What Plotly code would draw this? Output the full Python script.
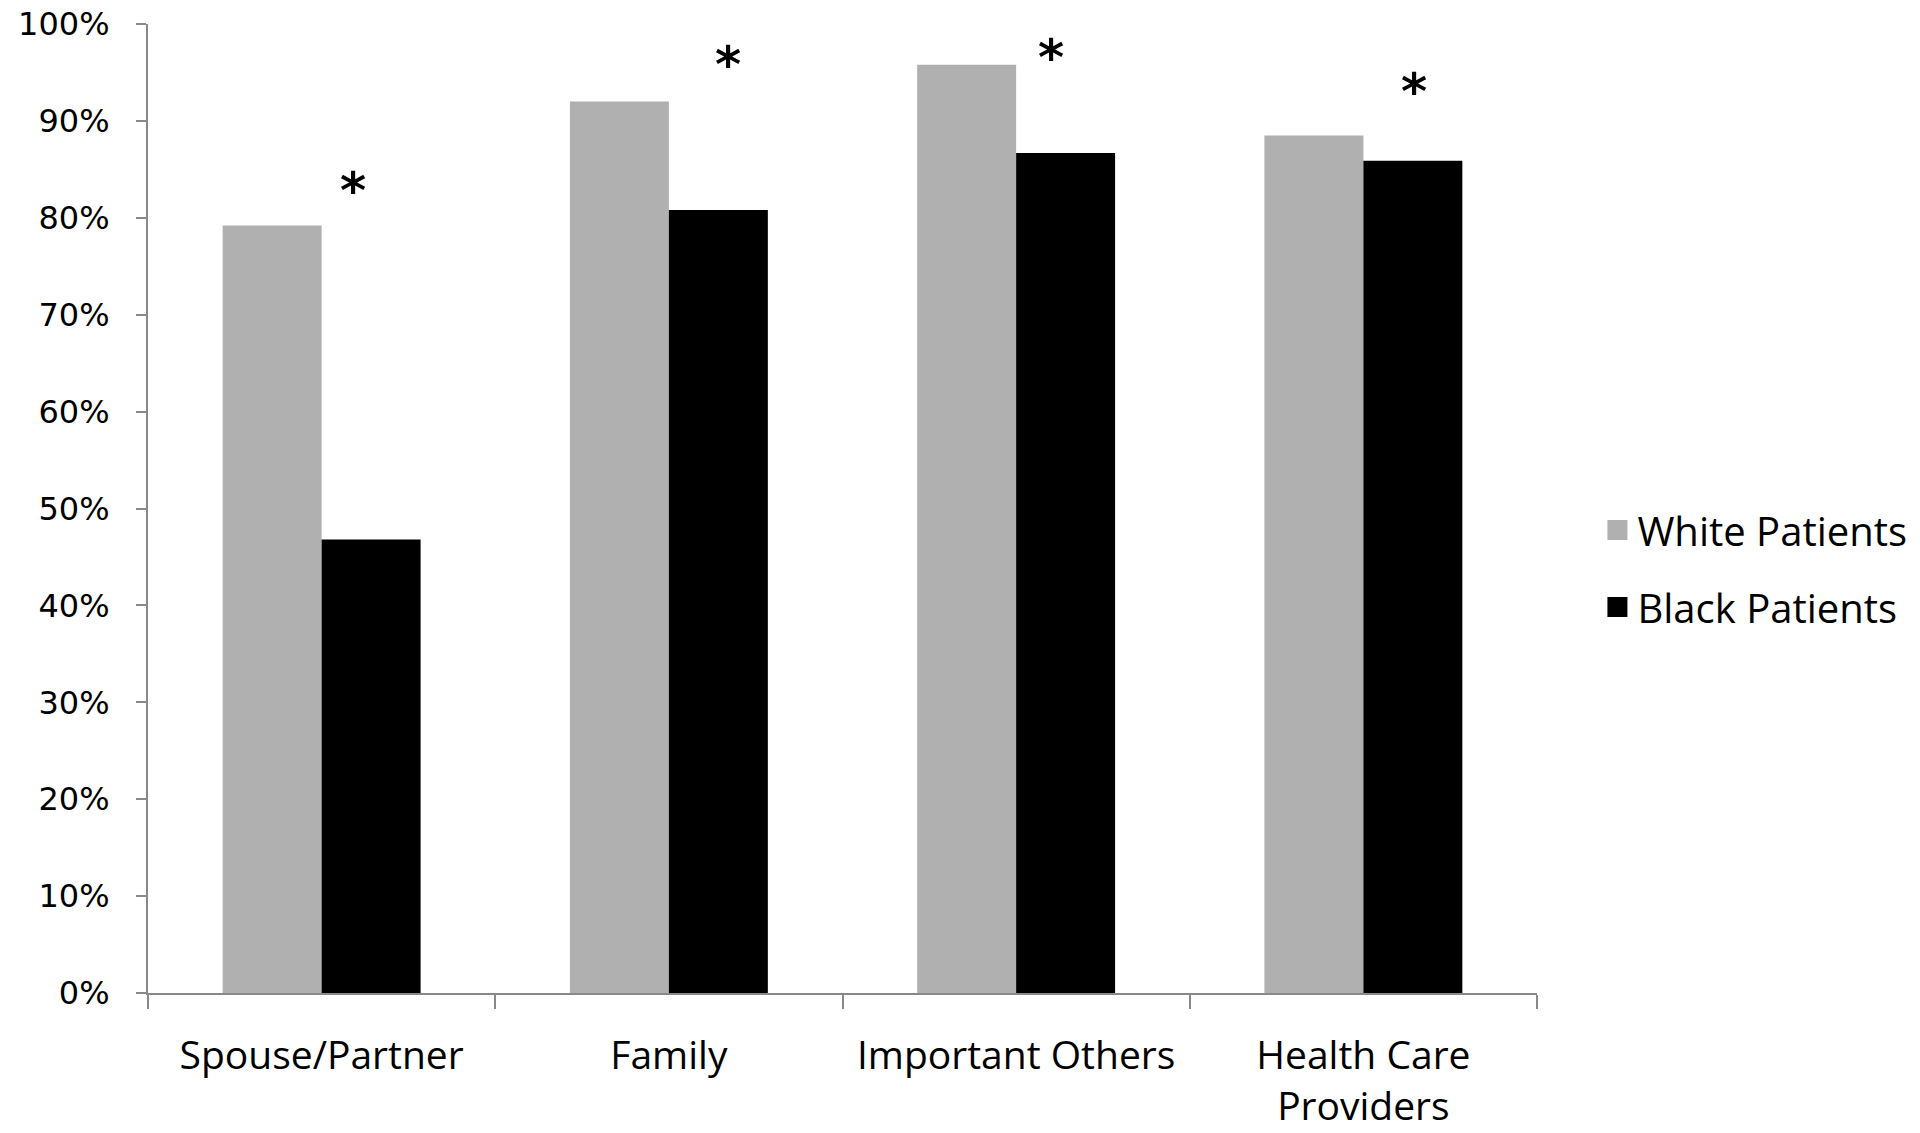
import plotly.graph_objects as go

categories = ["Spouse/Partner", "Family", "Important Others", "Health Care<br>Providers"]
white_patients = [79.2, 92.0, 95.8, 88.5]
black_patients = [46.8, 80.8, 86.7, 85.9]
significant = [True, True, True, True]
y_ticks = [0, 10, 20, 30, 40, 50, 60, 70, 80, 90, 100]
y_tick_labels = [f"{v}%" for v in y_ticks]

# annotation placement (layout, not data)
star_dx = [0.09, 0.17, 0.10, 0.146]
star_y = [83.5, 96.5, 97.2, 93.7]

GRAY = "#B0B0B0"
AXIS = "#898989"
series = [("White Patients", white_patients, GRAY), ("Black Patients", black_patients, "#000000")]

fig = go.Figure()
for name, vals, col in series:
    fig.add_trace(go.Bar(x=categories, y=vals, name=name, showlegend=False,
                         marker=dict(color=col, line=dict(width=0))))
for name, vals, col in series:
    fig.add_trace(go.Scatter(x=[None], y=[None], name=name, mode="markers",
                             legendgroup=name,
                             marker=dict(symbol="square", size=16, color=col,
                                         line=dict(color=col, width=4))))

annotations = []
for i, sig in enumerate(significant):
    if sig:
        annotations.append(dict(x=i + star_dx[i], y=star_y[i], xref="x", yref="y",
                                text="<b>*</b>", showarrow=False, yanchor="middle",
                                yshift=-7,
                                font=dict(family="DejaVu Sans", size=50, color="#000")))

fig.update_layout(
    width=1920, height=1133,
    paper_bgcolor="white", plot_bgcolor="white",
    margin=dict(l=148, r=383, t=24, b=140, autoexpand=False),
    barmode="group", bargap=0.43, bargroupgap=0,
    showlegend=True,
    legend=dict(x=1.0435, y=0.438, xanchor="left", yanchor="middle",
                font=dict(family="Open Sans", size=40, color="#000"),
                tracegroupgap=22, itemwidth=30, bgcolor="rgba(0,0,0,0)"),
    annotations=annotations,
)
fig.update_xaxes(
    type="category", showline=True, linecolor=AXIS, linewidth=2,
    ticks="outside", tickson="boundaries", ticklen=14, tickcolor=AXIS, tickwidth=1.5,
    tickfont=dict(family="Open Sans", size=39, color="#000"),
    ticklabelstandoff=27, showgrid=False, zeroline=False,
)
fig.update_yaxes(
    range=[0, 100], tickvals=y_ticks, ticktext=y_tick_labels,
    showline=True, linecolor=AXIS, linewidth=2,
    ticks="outside", ticklen=10, tickcolor=AXIS, tickwidth=1.5,
    tickfont=dict(family="DejaVu Sans", size=32, color="#000"),
    ticklabelstandoff=20, ticklabeloverflow="allow",
    showgrid=False, zeroline=False,
)

fig.write_html("out.html", config={"displayModeBar": False},
               post_script="document.body.style.margin='0';")
